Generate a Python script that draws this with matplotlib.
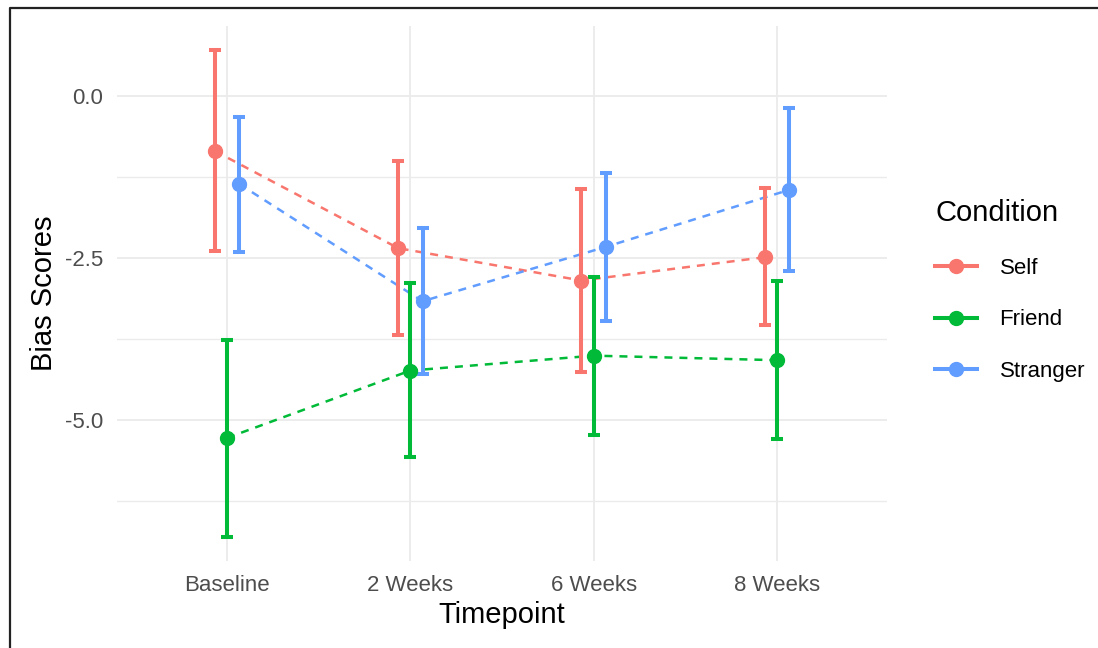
import matplotlib.pyplot as plt
import numpy as np
from matplotlib.lines import Line2D

plt.rcParams['font.family'] = ['Liberation Sans', 'DejaVu Sans']

timepoints = ['Baseline', '2 Weeks', '6 Weeks', '8 Weeks']
conditions = ['Self', 'Friend', 'Stranger']
colors = ['#F8766D', '#00BA38', '#619CFF']

# mean, lower and upper error bounds for each condition
self_mean = [-0.85, -2.35, -2.85, -2.49]
self_low = [-2.39, -3.69, -4.27, -3.54]
self_high = [0.71, -1.01, -1.44, -1.42]

friend_mean = [-5.28, -4.24, -4.01, -4.08]
friend_low = [-6.81, -5.57, -5.23, -5.30]
friend_high = [-3.77, -2.89, -2.79, -2.85]

stranger_mean = [-1.36, -3.17, -2.33, -1.45]
stranger_low = [-2.41, -4.29, -3.48, -2.70]
stranger_high = [-0.32, -2.04, -1.19, -0.19]

means = [self_mean, friend_mean, stranger_mean]
lows = [self_low, friend_low, stranger_low]
highs = [self_high, friend_high, stranger_high]
dodge = [-0.0667, 0.0, 0.0667]

fig = plt.figure(figsize=(10.98, 6.48), dpi=100)
ax = fig.add_axes([0.1066, 0.1343, 0.7012, 0.8256])

x = np.arange(len(timepoints))
for i, cond in enumerate(conditions):
    m = np.array(means[i])
    lo = np.array(lows[i])
    hi = np.array(highs[i])
    xs = x + dodge[i]
    ax.plot(xs, m, color=colors[i], lw=1.8, linestyle=(0, (3.2, 2.8)), zorder=2)
    ax.errorbar(xs, m, yerr=[m - lo, hi - m], fmt='none', ecolor=colors[i],
                elinewidth=2.9, capsize=4, capthick=2.9, zorder=3)
    ax.plot(xs, m, 'o', color=colors[i], markersize=10, zorder=4)

ax.set_xlim(-0.6, len(timepoints) - 1 + 0.6)
ax.set_ylim(-7.18, 1.08)
ax.set_xticks(x)
ax.set_xticklabels(timepoints)
ax.set_yticks([0.0, -2.5, -5.0])
ax.set_yticklabels(['0.0', '-2.5', '-5.0'])
ax.set_yticks([-1.25, -3.75, -6.25], minor=True)

ax.grid(True, which='major', color='#EBEBEB', lw=1.3)
ax.grid(True, which='minor', axis='y', color='#EBEBEB', lw=1.0)
ax.set_axisbelow(True)
for s in ax.spines.values():
    s.set_visible(False)
ax.tick_params(which='both', length=0, labelsize=16, labelcolor='#4D4D4D')
ax.tick_params(axis='y', pad=10)
ax.tick_params(axis='x', pad=10)

ax.set_xlabel('Timepoint', fontsize=21, labelpad=4)
ax.set_ylabel('Bias Scores', fontsize=21, labelpad=5)

handles = [Line2D([], [], color=c, lw=2.9, marker='o', markersize=10) for c in colors]
leg = ax.legend(handles, conditions, title='Condition', loc='center left',
                bbox_to_anchor=(0.8334, 0.5515), bbox_transform=fig.transFigure,
                frameon=False, fontsize=16, title_fontsize=21, handlelength=1.9,
                handletextpad=1.0, labelspacing=1.37, alignment='left')

# screenshot frame on top and left edges
fig.add_artist(Line2D([9.5 / 1098, 9.5 / 1098, 1.0], [0.0, 1 - 7.5 / 648, 1 - 7.5 / 648],
                      transform=fig.transFigure, color='#222222', lw=1.6))

fig.savefig('out.png', dpi=100)
